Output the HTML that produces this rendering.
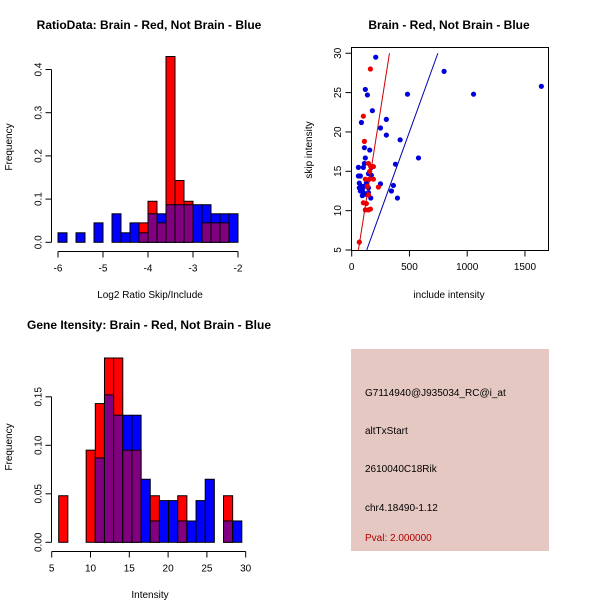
<!DOCTYPE html>
<html><head><meta charset="utf-8"><style>
html,body{margin:0;padding:0;background:#fff;}
svg{display:block;font-family:"Liberation Sans",sans-serif;}
</style></head><body>
<svg id="c" width="600" height="600" viewBox="0 0 600 600">
<rect x="0" y="0" width="600" height="600" fill="#fff"/>
<text x="149" y="29" font-size="12" font-weight="bold" text-anchor="middle">RatioData: Brain - Red, Not Brain - Blue</text>
<text x="150" y="298" font-size="10" text-anchor="middle">Log2 Ratio Skip/Include</text>
<text transform="translate(12,147) rotate(-90)" font-size="10" text-anchor="middle">Frequency</text>
<text x="449" y="29" font-size="12" font-weight="bold" text-anchor="middle">Brain - Red, Not Brain - Blue</text>
<text x="449" y="298" font-size="10" text-anchor="middle">include intensity</text>
<text transform="translate(312,150) rotate(-90)" font-size="10" text-anchor="middle">skip intensity</text>
<text x="149" y="329" font-size="12" font-weight="bold" text-anchor="middle">Gene Itensity: Brain - Red, Not Brain - Blue</text>
<text x="150" y="598" font-size="10" text-anchor="middle">Intensity</text>
<text transform="translate(12,447) rotate(-90)" font-size="10" text-anchor="middle">Frequency</text>
<g>
<rect x="351" y="349" width="198" height="202" fill="#E5C8C2"/>
<text x="365" y="396" font-size="10">G7114940@J935034_RC@i_at</text>
<text x="365" y="434" font-size="10">altTxStart</text>
<text x="365" y="472" font-size="10">2610040C18Rik</text>
<text x="365" y="511" font-size="10">chr4.18490-1.12</text>
<text x="365" y="541" font-size="10" fill="#B00000">Pval: 2.000000</text>
</g>
<g id="g1"></g><g id="g2"></g><g id="g3"></g>
</svg>
<script>
// Ratio histogram data
const ratioBinStart = -6, ratioBinWidth = 0.2;
const ratioRed  = [0,0,0,0,0,0,0,0,0,0.045,0.095,0.045,0.43,0.143,0.095,0,0.045,0.045,0.045,0];
const ratioBlue = [0.022,0,0.022,0,0.045,0,0.066,0.022,0.045,0.022,0.066,0.066,0.087,0.087,0.087,0.087,0.087,0.066,0.066,0.066];
const ratioXTicks = [-6,-5,-4,-3,-2];
const ratioYTicks = [0.0,0.1,0.2,0.3,0.4];
const ratioYLabels = ["0.0","0.1","0.2","0.3","0.4"];
// Intensity histogram data
const intBinStart = 5.9, intBinWidth = 1.18;
const intRed  = [0.048,0,0,0.095,0.143,0.19,0.19,0.095,0.095,0,0.048,0,0,0.048,0,0,0,0,0.048,0];
const intBlue = [0,0,0,0,0.087,0.152,0.131,0.131,0.131,0.065,0.022,0.043,0.043,0.022,0.022,0.043,0.065,0,0.022,0.022];
const intXTicks = [5,10,15,20,25,30];
const intYTicks = [0,0.05,0.1,0.15];
const intYLabels = ["0.00","0.05","0.10","0.15"];
// Scatter data
const blueX = [208,800,483,1055,1642,118,136,179,84,300,249,300,419,110,156,578,118,379,58,101,170,110,58,75,170,145,249,361,344,396,165,66,84,66,92,101,75,118,92,127,110,145,145];
const blueY = [29.5,27.7,24.8,24.8,25.8,25.4,24.7,22.7,21.2,21.6,20.5,19.6,19.0,18.0,17.7,16.7,16.7,15.9,15.5,15.5,15.5,16.0,14.4,14.4,14.5,14.7,13.4,13.2,12.5,11.6,11.6,13.5,13.1,12.9,12.7,12.3,12.5,12.1,11.9,13.5,13.1,12.9,12.3];
const redX = [162,101,110,145,165,156,118,153,188,136,231,145,101,127,118,145,162,66,188];
const redY = [28.0,22.0,18.8,16.0,15.6,15.0,14.0,14.0,14.0,13.1,13.0,12.0,11.0,10.9,10.1,10.1,10.2,6.0,15.6];
const redLine = [[58,5],[327,30]];
const blueLine = [[130,5],[746,30]];
const scXTicks = [0,500,1000,1500];
const scYTicks = [5,10,15,20,25,30];

const NS="http://www.w3.org/2000/svg";
function mk(parent,tag,attrs,name){const e=document.createElementNS(NS,tag);for(const k in attrs)e.setAttribute(k,attrs[k]);


parent.appendChild(e);return e;}

function hist(g,prefix,start,w,red,blue,xs,ys,xTicks,yTicks,yLabels){
  red.forEach((r,i)=>{
    const b=blue[i], x0=xs(start+i*w), x1=xs(start+(i+1)*w);
    const hi=Math.max(r,b), lo=Math.min(r,b);
    if(hi>0){mk(g,'rect',{x:x0,y:ys(hi),width:x1-x0,height:ys(0)-ys(hi),fill:r>=b?'#FF0000':'#0000FF',stroke:'#000','stroke-width':1},prefix+'-bar-'+i);}
    if(lo>0){mk(g,'rect',{x:x0,y:ys(lo),width:x1-x0,height:ys(0)-ys(lo),fill:'#800080',stroke:'#000','stroke-width':1},prefix+'-overlap-bar-'+i);}
  });
  const ax=51.5, by=251.5+(prefix==='int'?300:0);
  mk(g,'line',{x1:xs(xTicks[0]),x2:xs(xTicks[xTicks.length-1]),y1:by,y2:by,stroke:'#000'},prefix+'-x-axis');
  xTicks.forEach((t,i)=>{mk(g,'line',{x1:xs(t),x2:xs(t),y1:by,y2:by+6,stroke:'#000'},prefix+'-x-tick');
    const tx=mk(g,'text',{x:xs(t),y:by+20,'font-size':10,'text-anchor':'middle'},prefix+'-x-tick-label');tx.textContent=String(t);});
  mk(g,'line',{x1:ax,x2:ax,y1:ys(yTicks[0]),y2:ys(yTicks[yTicks.length-1]),stroke:'#000'},prefix+'-y-axis');
  yTicks.forEach((t,i)=>{mk(g,'line',{x1:ax-6,x2:ax,y1:ys(t),y2:ys(t),stroke:'#000'},prefix+'-y-tick');
    const tx=mk(g,'text',{transform:`translate(${ax-10},${ys(t)}) rotate(-90)`,'font-size':10,'text-anchor':'middle'},prefix+'-y-tick-label');tx.textContent=yLabels[i];});
}
hist(document.getElementById('g1'),'ratio',ratioBinStart,ratioBinWidth,ratioRed,ratioBlue,
  v=>58+(v+6)*45, v=>242.3-v*432, ratioXTicks,ratioYTicks,ratioYLabels);
hist(document.getElementById('g3'),'int',intBinStart,intBinWidth,intRed,intBlue,
  v=>51.7+(v-5)*7.76, v=>542.3-v*970, intXTicks,intYTicks,intYLabels);
(function(){
  const g=document.getElementById('g2');
  const xs=v=>351.7+v*0.1155, ys=v=>250-(v-5)*7.87;
  const defs=mk(g,'clipPath',{id:'clip'},'scatter-clip');
  mk(defs,'rect',{x:351,y:47,width:197,height:203},'scatter-clip-rect');
  mk(g,'rect',{x:351.5,y:47.5,width:197,height:203,fill:'none',stroke:'#000'},'scatter-plot-box');
  scXTicks.forEach(t=>{mk(g,'line',{x1:xs(t),x2:xs(t),y1:250.5,y2:256.5,stroke:'#000'},'scatter-x-tick');
    const tx=mk(g,'text',{x:xs(t),y:270,'font-size':10,'text-anchor':'middle'},'scatter-x-tick-label');tx.textContent=String(t);});
  scYTicks.forEach(t=>{mk(g,'line',{x1:345.5,x2:351.5,y1:ys(t),y2:ys(t),stroke:'#000'},'scatter-y-tick');
    const tx=mk(g,'text',{transform:`translate(341,${ys(t)}) rotate(-90)`,'font-size':10,'text-anchor':'middle'},'scatter-y-tick-label');tx.textContent=String(t);});
  blueX.forEach((x,i)=>mk(g,'circle',{cx:xs(x),cy:ys(blueY[i]),r:2.6,fill:'#0000DD'},'blue-point'));
  redX.forEach((x,i)=>mk(g,'circle',{cx:xs(x),cy:ys(redY[i]),r:2.6,fill:'#EE0000'},'red-point'));
  mk(g,'line',{x1:xs(redLine[0][0]),y1:ys(redLine[0][1]),x2:xs(redLine[1][0]),y2:ys(redLine[1][1]),stroke:'#CC0000','clip-path':'url(#clip)'},'red-fit-line');
  mk(g,'line',{x1:xs(blueLine[0][0]),y1:ys(blueLine[0][1]),x2:xs(blueLine[1][0]),y2:ys(blueLine[1][1]),stroke:'#0000AA','clip-path':'url(#clip)'},'blue-fit-line');
})();
</script>
</body></html>
